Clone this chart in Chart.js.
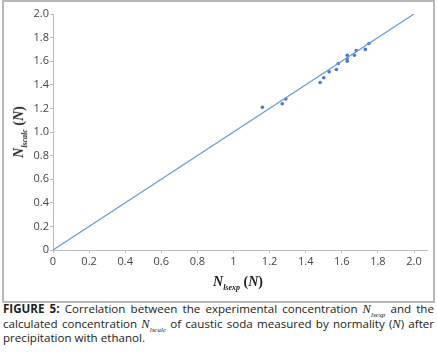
<!DOCTYPE html>
<html>
<head>
<meta charset="utf-8">
<script src="https://cdn.jsdelivr.net/npm/chart.js@4.4.1/dist/chart.umd.min.js"></script>
<style>
  body { margin: 0; background: #fff; width: 437px; height: 354px; overflow: hidden; position: relative; }
  #frame { position: absolute; left: 2px; top: 0; width: 429px; height: 299px; border: 2px solid #b8b8b8; }
  .ttl { position: absolute; font-family: "Liberation Serif", serif; font-weight: bold; font-size: 14px; color: #222; white-space: nowrap; }
  .ttl i sub { font-size: 8px; }
  #ytitle { left: 20px; top: 132px; transform: translate(-50%, -50%) rotate(-90deg); }
  #xtitle { left: 238px; top: 283px; transform: translate(-50%, -50%); }
  #caption { position: absolute; left: 3px; top: 302px; width: 431px; font-family: "Open Sans", sans-serif; font-size: 11.6px; line-height: 14.5px; color: #222; text-align: justify; }
  #caption .m { font-family: "Liberation Serif", serif; font-style: italic; font-size: 12.5px; }
  #caption .m sub { font-size: 7px; line-height: 0; }
</style>
</head>
<body>
<div id="frame"><canvas id="chart"></canvas></div>
<div class="ttl" id="ytitle"><i>N<sub>lscalc</sub></i> (<i>N</i>)</div>
<div class="ttl" id="xtitle"><i>N<sub>lsexp</sub></i> (<i>N</i>)</div>
<div id="caption"><b>FIGURE 5:</b> Correlation between the experimental concentration <span class="m">N<sub>lsexp</sub></span> and the calculated concentration <span class="m">N<sub>lscalc</sub></span> of caustic soda measured by normality (<span class="m">N</span>) after precipitation with ethanol.</div>
<script>
  const expValues  = [1.16, 1.27, 1.29, 1.48, 1.50, 1.53, 1.57, 1.58, 1.63, 1.63, 1.63, 1.67, 1.68, 1.73, 1.75];
  const calcValues = [1.21, 1.24, 1.28, 1.42, 1.46, 1.51, 1.53, 1.58, 1.60, 1.62, 1.65, 1.65, 1.69, 1.70, 1.75];

  // y = x reference line
  const lineX = [0, 2.0];
  const lineY = [0, 2.0];

  const xTicks = [0, 0.2, 0.4, 0.6, 0.8, 1.0, 1.2, 1.4, 1.6, 1.8, 2.0];
  const xTickLabels = ['0', '0.2', '0.4', '0.6', '0.8', '1', '1.2', '1.4', '1.6', '1.8', '2.0'];
  const yTicks = [0, 0.2, 0.4, 0.6, 0.8, 1.0, 1.2, 1.4, 1.6, 1.8, 2.0];
  const yTickLabels = ['0', '0.2', '0.4', '0.6', '0.8', '1.0', '1.2', '1.4', '1.6', '1.8', '2.0'];

  const axisColor = '#bcbcbc';
  const labelFont = { family: 'Open Sans', size: 11 };

  new Chart(document.getElementById('chart'), {
    data: {
      datasets: [
        {
          type: 'line',
          data: lineX.map((x, i) => ({ x: x, y: lineY[i] })),
          borderColor: '#6a9fd8',
          borderWidth: 1.3,
          pointRadius: 0,
          fill: false
        },
        {
          type: 'scatter',
          data: expValues.map((x, i) => ({ x: x, y: calcValues[i] })),
          backgroundColor: '#4a78c8',
          borderColor: '#4a78c8',
          pointRadius: 1.8,
          borderWidth: 0
        }
      ]
    },
    options: {
      responsive: true,
      maintainAspectRatio: false,
      animation: false,
      layout: { padding: { top: 12, right: 6, left: 0, bottom: 0 } },
      plugins: { legend: { display: false }, tooltip: { enabled: false } },
      scales: {
        x: {
          type: 'linear',
          min: 0,
          max: 2.072,
          afterBuildTicks: (s) => { s.ticks = xTicks.map(v => ({ value: v })); },
          afterFit: (s) => { s.height = 51; },
          grid: { drawOnChartArea: false, color: axisColor, tickLength: 3 },
          border: { color: axisColor },
          ticks: {
            color: '#444',
            font: labelFont,
            padding: 2,
            maxRotation: 0,
            autoSkip: false,
            callback: (v, i) => xTickLabels[i]
          }
        },
        y: {
          type: 'linear',
          min: 0,
          max: 2.0,
          afterBuildTicks: (s) => { s.ticks = yTicks.map(v => ({ value: v })); },
          afterFit: (s) => { s.width = 49; },
          grid: { drawOnChartArea: false, color: axisColor, tickLength: 3 },
          border: { color: axisColor },
          ticks: {
            color: '#444',
            font: labelFont,
            padding: 1,
            autoSkip: false,
            callback: (v, i) => yTickLabels[i]
          }
        }
      }
    }
  });
</script>
</body>
</html>
